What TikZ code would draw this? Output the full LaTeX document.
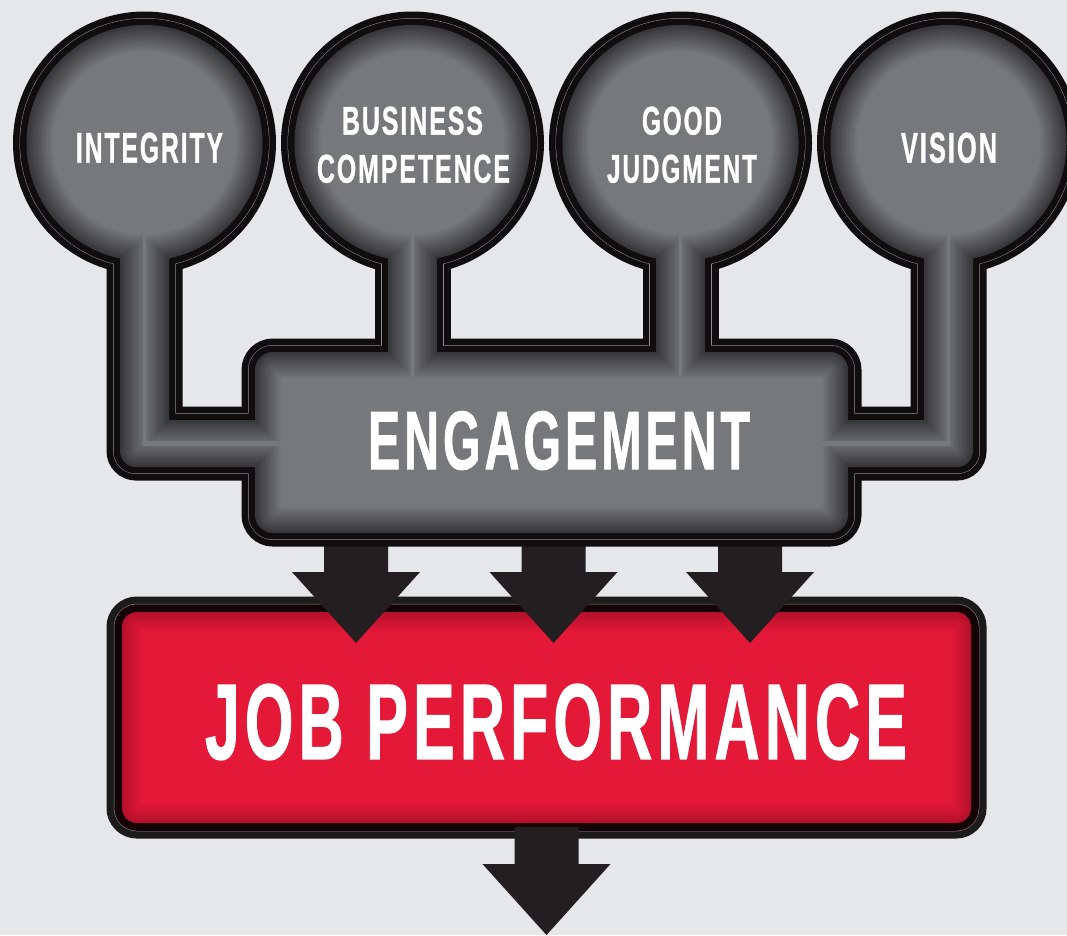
\documentclass[tikz,border=0pt]{standalone}
\usepackage{fontspec}
\setmainfont{Liberation Sans}[BoldFeatures={FakeBold=1.2,LetterSpace=8}]
\usepackage{graphicx}
\definecolor{bg}{HTML}{E6E7E8}
\definecolor{edgeblk}{HTML}{0F0D0E}
\definecolor{hair}{HTML}{8C8C8E}
\definecolor{gdark}{HTML}{38383B}
\definecolor{gmid}{HTML}{77787B}
\definecolor{rdark}{HTML}{B5102B}
\definecolor{rmid}{HTML}{E31937}
\definecolor{jpout}{HTML}{1C1A1B}
\definecolor{jpin}{HTML}{140204}
\definecolor{arrowcol}{HTML}{231F20}

% the grey engagement group, inset by #2
\newcommand\engparts[2]{%
 \pgfmathsetmacro\dd{#2}%
 \pgfmathsetmacro\rc{118-\dd}%
 \pgfmathsetmacro\rl{max(16-\dd,0.01)}%
 \pgfmathsetmacro\rb{max(18-\dd,0.01)}%
 \foreach \cx in {144.5,412.5,680.5,948.5}{\path[#1] (\cx,143) circle[radius=\rc];}%
 \foreach \cx in {412.5,680.5}{\path[#1] ({\cx-24.5+\dd},143) rectangle ({\cx+24.5-\dd},420);}%
 \path[#1, rounded corners=\rb] ({255+\dd},{352+\dd}) rectangle ({848-\dd},{533-\dd});%
 \path[#1] ({120+\dd},143) -- ({120+\dd},{467-\dd-\rl}) arc[start angle=180,end angle=90,radius=\rl] -- (300,{467-\dd}) -- (300,{420+\dd}) -- ({169-\dd},{420+\dd}) -- ({169-\dd},143) -- cycle;%
 \path[#1] ({973-\dd},143) -- ({973-\dd},{467-\dd-\rl}) arc[start angle=0,end angle=90,radius=\rl] -- (800,{467-\dd}) -- (800,{420+\dd}) -- ({924+\dd},{420+\dd}) -- ({924+\dd},143) -- cycle;%
}
% the red job performance box, inset by #2
\newcommand\jpparts[2]{%
 \pgfmathsetmacro\dd{#2}%
 \pgfmathsetmacro\rj{max(15-\dd,0.01)}%
 \path[#1, rounded corners=\rj] ({122+\dd},{612+\dd}) rectangle ({971-\dd},{823-\dd});%
}

\tikzset{
  txt/.style={inner sep=0pt, outer sep=0pt, text=white, font=\bfseries, anchor=south west},
  blockarrow/.pic={\fill[arrowcol] (-32,-108) -- (-32,-71) -- (-64,-71) -- (0,0) -- (64,-71) -- (32,-71) -- (32,-108) -- cycle;}
}

\begin{document}
\begin{tikzpicture}[x=1pt,y=-1pt]
\useasboundingbox (0,0) rectangle (1067,935);
\fill[bg] (0,0) rectangle (1067,935);
\clip (0,0) rectangle (1067,935);

% job performance box
\jpparts{draw=jpout, line width=31pt}{0}
\jpparts{draw=hair, line width=16.5pt}{0}
\jpparts{draw=jpin, line width=15.5pt}{0}
\foreach \i in {0,...,10}{%
  \pgfmathtruncatemacro\pp{100*\i/10}%
  \jpparts{fill=rmid!\pp!rdark}{2*\i}%
}

% arrows
\coordinate (tip1) at (356,643);
\coordinate (tip2) at (553.5,643);
\coordinate (tip3) at (750,643);
\coordinate (tip4) at (546.5,935);
\pic at (tip1) {blockarrow};
\pic at (tip2) {blockarrow};
\pic at (tip3) {blockarrow};
\pic at (tip4) {blockarrow};

% grey engagement group
\engparts{draw=edgeblk, line width=27pt}{0}
\engparts{draw=hair, line width=13.9pt}{0}
\engparts{draw=edgeblk, line width=12.9pt}{0}
\foreach \i in {0,...,13}{%
  \pgfmathtruncatemacro\pp{100*\i/13}%
  \engparts{fill=gmid!\pp!gdark}{2*\i}%
}

% labels
\node[txt] (integrity) at (76,163) {\resizebox{147pt}{30pt}{INTEGRITY}};
\node[txt] (business) at (342,135) {\resizebox{141pt}{28pt}{BUSINESS}};
\node[txt] (competence) at (317,183) {\resizebox{193pt}{28pt}{COMPETENCE}};
\node[txt] (good) at (642,135) {\resizebox{80pt}{28pt}{GOOD}};
\node[txt] (judgment) at (607,183) {\resizebox{150pt}{28pt}{JUDGMENT}};
\node[txt] (vision) at (901,163) {\resizebox{96pt}{30pt}{VISION}};
\node[txt] (engagement) at (368,470) {\resizebox{382pt}{58pt}{ENGAGEMENT}};
\node[txt] (jobperf) at (205,760) {\resizebox{702pt}{75pt}{JOB PERFORMANCE}};
\end{tikzpicture}
\end{document}
